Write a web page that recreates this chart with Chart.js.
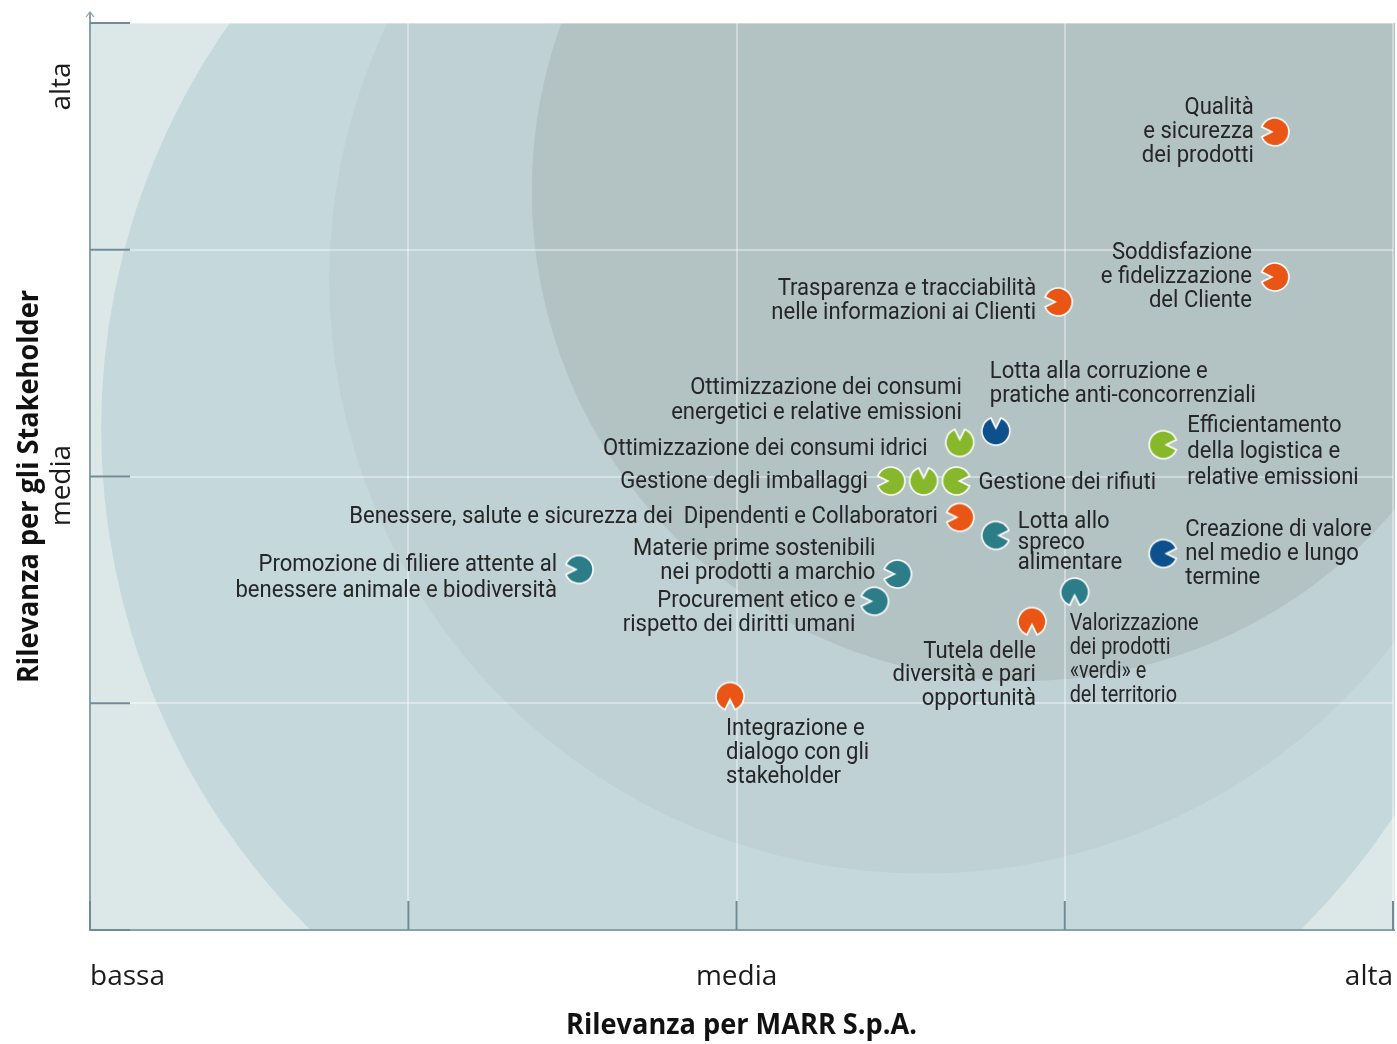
<!DOCTYPE html>
<html><head><meta charset="utf-8">
<script src="https://cdn.jsdelivr.net/npm/chart.js@4.4.1/dist/chart.umd.min.js"></script>
<style>html,body{margin:0;padding:0;background:#fff}#wrap{width:1397px;height:1044px;position:relative}</style>
</head><body><div id="wrap"><canvas id="c" width="1397" height="1044"></canvas></div>
<script>
// ---------- DATA ----------
const topics = [
  ["Qualità","e sicurezza","dei prodotti"],
  ["Soddisfazione","e fidelizzazione","del Cliente"],
  ["Trasparenza e tracciabilità","nelle informazioni ai Clienti"],
  ["Lotta alla corruzione e","pratiche anti-concorrenziali"],
  ["Ottimizzazione dei consumi","energetici e relative emissioni"],
  ["Gestione degli imballaggi"],
  ["Ottimizzazione dei consumi idrici"],
  ["Gestione dei rifiuti"],
  ["Efficientamento","della logistica e","relative emissioni"],
  ["Benessere, salute e sicurezza dei  Dipendenti e Collaboratori"],
  ["Lotta allo","spreco","alimentare"],
  ["Creazione di valore","nel medio e lungo","termine"],
  ["Promozione di filiere attente al","benessere animale e biodiversità"],
  ["Materie prime sostenibili","nei prodotti a marchio"],
  ["Procurement etico e","rispetto dei diritti umani"],
  ["Valorizzazione","dei prodotti","«verdi» e","del territorio"],
  ["Tutela delle","diversità e pari","opportunità"],
  ["Integrazione e","dialogo con gli","stakeholder"]
];
const relevanceMarr        = [3.64, 3.64, 2.98, 2.79, 2.68, 2.47, 2.57, 2.67, 3.30, 2.68, 2.79, 3.30, 1.52, 2.49, 2.42, 3.03, 2.90, 1.98];
const relevanceStakeholder = [3.52, 2.88, 2.77, 2.20, 2.15, 1.98, 1.98, 1.98, 2.14, 1.82, 1.74, 1.66, 1.59, 1.57, 1.45, 1.49, 1.36, 1.03];
const topicGroup = ["orange","orange","orange","blue","green","green","green","green","green","orange","teal","blue","teal","teal","teal","teal","orange","orange"];
const notchSide  = ["L","L","L","U","U","L","U","R","R","L","R","R","L","L","L","D","D","D"];

const X_MIN = 0.03;
const xTickValues = [X_MIN, 1, 2, 3, 4];
const xTickLabels = ["bassa", "", "media", "", "alta"];
const yTickValues = [0, 1, 2, 3, 4];
const yLabelValues = [1.96, 3.72];
const yLabelTexts  = ["media", "alta"];
const xTitle = "Rilevanza per MARR S.p.A.";
const yTitle = "Rilevanza per gli Stakeholder";

// background bands (data units: centre x, centre y, radius in x units)
const bandCx = [2.21, 2.57, 2.87];
const bandCy = [2.21, 2.87, 3.26];
const bandR  = [2.146, 1.811, 1.494];

// ---------- STYLE ----------
const groupColors = {orange:"#e95514", green:"#87b82c", teal:"#2c7d87", blue:"#0d508c"};
const bandColors = ["#c5d8db", "#bfd1d4", "#b3c2c3"];
const baseColor = "#dce8e8";
const notchRot = {L:0, U:90, R:180, D:270};
// label placement: [align, dx, dy(first line), line gap, extra horizontal squeeze]
const labelLayout = [
  ["right",-21,-24,24,1],["right",-23,-24,24,1],["right",-22,-13,24,1],["left",-6,-59,24,1],
  ["right",2,-54,25,1],["right",-23,1,24,1],["right",4,-32,24,1],["left",22,2,24,1],
  ["left",24,-19,26,1],["right",-22,0,24,1],["left",22,-13,20.5,1],["left",22,-24,24,1],
  ["right",-22,-4,26,1],["right",-22,-25,24,1],["right",-19,0,24,1],["left",-5,32,24,0.9],
  ["right",4,30,23.5,1],["left",-4,33,24,1]
];
const LABEL_FONT = "400 24px Roboto";
const LABEL_SX = 0.92;

function makeMarker(color){
  const r = 14, s = 34, c = s/2;
  const cv = document.createElement('canvas'); cv.width = s; cv.height = s;
  const g = cv.getContext('2d');
  const a = 0.36;
  g.beginPath();
  g.moveTo(c - 3, c);
  g.lineTo(c + r*Math.cos(Math.PI + a), c + r*Math.sin(Math.PI + a));
  g.arc(c, c, r, Math.PI + a, Math.PI - a, false);
  g.closePath();
  g.fillStyle = color; g.fill();
  g.lineWidth = 1.6; g.strokeStyle = "#ffffff"; g.lineJoin = 'miter'; g.stroke();
  return cv;
}
const markerImgs = {};
Object.keys(groupColors).forEach(k => markerImgs[k] = makeMarker(groupColors[k]));

function drawText(ctx, text, x, y, align, font, sx, color, rot){
  ctx.save();
  ctx.translate(x, y);
  if (rot) ctx.rotate(rot);
  ctx.scale(sx, 1);
  ctx.font = font; ctx.fillStyle = color; ctx.textAlign = align; ctx.textBaseline = 'middle';
  ctx.fillText(text, 0, 0);
  ctx.restore();
}

const bgPlugin = {
  id: 'bg',
  beforeDraw(chart){
    const {ctx, chartArea:a, scales:{x, y}} = chart;
    ctx.save();
    ctx.fillStyle = '#fff'; ctx.fillRect(0, 0, chart.width, chart.height);
    ctx.fillStyle = baseColor; ctx.fillRect(a.left, a.top, a.width + 2, a.height);
    ctx.beginPath(); ctx.rect(a.left, a.top, a.width + 2, a.height); ctx.clip();
    for (let i = 0; i < bandCx.length; i++){
      const cx = x.getPixelForValue(bandCx[i]), cy = y.getPixelForValue(bandCy[i]);
      const r = x.getPixelForValue(bandCx[i] + bandR[i]) - cx;
      ctx.fillStyle = bandColors[i];
      ctx.beginPath(); ctx.arc(cx, cy, r, 0, Math.PI*2); ctx.fill();
    }
    ctx.restore();
  },
  beforeDatasetsDraw(chart){
    const {ctx, chartArea:a, scales:{x, y}} = chart;
    ctx.save();
    ctx.strokeStyle = '#88a2ab'; ctx.lineWidth = 2;
    ctx.beginPath(); ctx.moveTo(a.left, a.top - 11); ctx.lineTo(a.left, a.bottom); ctx.lineTo(a.right + 2, a.bottom); ctx.stroke();
    ctx.lineWidth = 1.2;
    ctx.beginPath(); ctx.moveTo(a.left - 4, a.top - 6); ctx.lineTo(a.left, a.top - 11); ctx.lineTo(a.left + 4, a.top - 6); ctx.stroke();
    ctx.strokeStyle = '#6f8c96'; ctx.lineWidth = 2;
    yTickValues.forEach(v => { const py = y.getPixelForValue(v); ctx.beginPath(); ctx.moveTo(a.left, py); ctx.lineTo(a.left + 40, py); ctx.stroke(); });
    xTickValues.forEach(v => { const px = x.getPixelForValue(v); ctx.beginPath(); ctx.moveTo(px, a.bottom - 29); ctx.lineTo(px, a.bottom); ctx.stroke(); });
    yLabelValues.forEach((v, i) => drawText(ctx, yLabelTexts[i], a.left - 28, y.getPixelForValue(v), 'center', '400 28px "Open Sans"', 1, '#1b1b1b', -Math.PI/2));
    drawText(ctx, xTitle, (a.left + a.right)/2, 1026, 'center', '700 28px "Open Sans"', 0.97, '#111', 0);
    drawText(ctx, yTitle, 30, (a.top + a.bottom)/2 + 10, 'center', '700 28px "Open Sans"', 0.97, '#111', -Math.PI/2);
    ctx.restore();
  },
  afterDatasetsDraw(chart){
    const {ctx} = chart;
    const meta = chart.getDatasetMeta(0);
    meta.data.forEach((el, i) => {
      const [align, dx, dy, gap, sq] = labelLayout[i];
      topics[i].forEach((line, j) => drawText(ctx, line, el.x + dx, el.y + dy + j*gap, align, LABEL_FONT, LABEL_SX * sq, '#262626', 0));
    });
  }
};

new Chart(document.getElementById('c'), {
  type: 'scatter',
  data: {
    datasets: [{
      data: relevanceMarr.map((v, i) => ({x: v, y: relevanceStakeholder[i]})),
      pointStyle: topicGroup.map(g => markerImgs[g]),
      rotation: notchSide.map(s => notchRot[s]),
      pointRadius: 14,
      pointHoverRadius: 14
    }]
  },
  options: {
    responsive: false,
    animation: false,
    devicePixelRatio: 1,
    layout: {autoPadding: false, padding: {top: 23, right: 4, left: 0, bottom: 0}},
    plugins: {legend: {display: false}, tooltip: {enabled: false}},
    events: [],
    scales: {
      x: {
        type: 'linear', min: X_MIN, max: 4,
        afterBuildTicks: s => { s.ticks = xTickValues.map(v => ({value: v})); },
        afterFit: s => { s.height = 114; s.paddingLeft = 0; s.paddingRight = 0; },
        grid: {color: 'rgba(255,255,255,0.38)', lineWidth: 2, drawTicks: false},
        border: {display: false},
        ticks: {padding: 30, align: 'inner', autoSkip: false, maxRotation: 0,
                font: {family: 'Open Sans', size: 28}, color: '#1b1b1b',
                callback: (v, i) => xTickLabels[i]}
      },
      y: {
        type: 'linear', min: 0, max: 4,
        afterBuildTicks: s => { s.ticks = yTickValues.map(v => ({value: v})); },
        afterFit: s => { s.width = 90; s.paddingTop = 0; s.paddingBottom = 0; },
        grid: {color: 'rgba(255,255,255,0.38)', lineWidth: 2, drawTicks: false},
        border: {display: false},
        ticks: {display: false}
      }
    }
  },
  plugins: [bgPlugin]
});
</script></body></html>
